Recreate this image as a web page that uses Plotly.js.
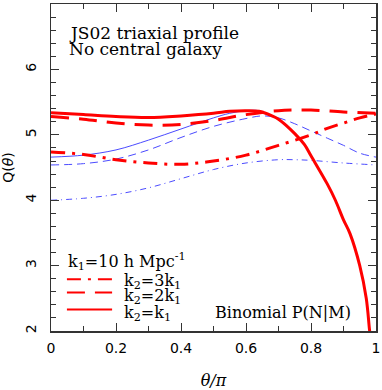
<!DOCTYPE html>
<html>
<head>
<meta charset="utf-8">
<script src="https://cdn.plot.ly/plotly-3.0.1.min.js"></script>
<style>html,body{margin:0;padding:0;background:#fff;}#chart{width:382px;height:390px;}</style>
</head>
<body>
<div id="chart"></div>
<script>
// theta/pi sample positions and Q(theta) values
const thetaSolid = [0, 0.1, 0.2, 0.3, 0.4, 0.5, 0.55, 0.6, 0.64, 0.68, 0.7, 0.75, 0.78, 0.8, 0.85, 0.875, 0.9, 0.92, 0.95, 0.97, 0.98, 0.985];
const redSolid   = [5.34, 5.31, 5.28, 5.265, 5.29, 5.33, 5.36, 5.37, 5.36, 5.29, 5.24, 5.02, 4.85, 4.68, 4.25, 4.00, 3.70, 3.49, 3.00, 2.50, 2.02, 1.80];
const thetaBlueSolid = [0, 0.1, 0.2, 0.3, 0.4, 0.5, 0.55, 0.6, 0.64, 0.68, 0.7, 0.75, 0.78, 0.8, 0.85, 0.875, 0.9, 0.92, 0.95, 0.97, 0.98, 0.985];
const blueSolid  = [4.66, 4.69, 4.77, 4.92, 5.09, 5.26, 5.33, 5.37, 5.37, 5.29, 5.24, 5.02, 4.85, 4.68, 4.25, 4.00, 3.70, 3.49, 3.00, 2.50, 2.02, 1.80];

const thetaDash = [0, 0.1, 0.2, 0.3, 0.4, 0.5, 0.6, 0.7, 0.75, 0.8, 0.9, 1.0];
const redDash   = [5.28, 5.24, 5.18, 5.15, 5.16, 5.22, 5.31, 5.37, 5.38, 5.38, 5.35, 5.33];
const thetaBlueDash = [0, 0.1, 0.2, 0.3, 0.4, 0.5, 0.6, 0.65, 0.7, 0.75, 0.8, 0.85, 0.9, 0.95, 1.0];
const blueDash  = [4.54, 4.56, 4.63, 4.77, 4.96, 5.13, 5.25, 5.29, 5.26, 5.17, 5.06, 4.95, 4.84, 4.72, 4.66];

const thetaDashDot = [0, 0.1, 0.2, 0.3, 0.4, 0.5, 0.6, 0.7, 0.8, 0.85, 0.9, 0.95, 1.0];
const redDashDot   = [4.74, 4.70, 4.62, 4.57, 4.55, 4.60, 4.69, 4.84, 5.00, 5.10, 5.18, 5.26, 5.32];
const thetaBlueDashDot = [0, 0.1, 0.2, 0.3, 0.4, 0.5, 0.6, 0.7, 0.75, 0.8, 0.9, 1.0];
const blueDashDot  = [4.00, 4.03, 4.09, 4.19, 4.33, 4.47, 4.57, 4.62, 4.62, 4.61, 4.57, 4.54];

const legendTitle = "k<sub>1</sub>=10 h Mpc<sup>-1</sup>";
const legendNames = ["k<sub>2</sub>=3k<sub>1</sub>", "k<sub>2</sub>=2k<sub>1</sub>", "k<sub>2</sub>=k<sub>1</sub>"];
const headerLines = ["JS02 triaxial profile", "No central galaxy"];
const noteText = "Binomial P(N|M)";

const RED = "#ff0000", BLUE = "#4b4bff";
const serif = "DejaVu Serif, serif";
const DASHDOT = "14px,7px,3px,7px", DASH = "18px,10px";

const traces = [
  {x: thetaBlueDashDot, y: blueDashDot, mode: "lines", line: {color: BLUE, width: 1, dash: "6px,4px,1px,4px", shape: "spline"}, showlegend: false, hoverinfo: "skip"},
  {x: thetaBlueDash, y: blueDash, mode: "lines", line: {color: BLUE, width: 1, dash: "8px,5px", shape: "spline"}, showlegend: false, hoverinfo: "skip"},
  {x: thetaBlueSolid, y: blueSolid, mode: "lines", line: {color: BLUE, width: 1, shape: "spline"}, showlegend: false, hoverinfo: "skip"},
  {x: thetaDashDot, y: redDashDot, name: legendNames[0], mode: "lines", line: {color: RED, width: 3, dash: DASHDOT, shape: "spline"}, showlegend: false},
  {x: thetaDash, y: redDash, name: legendNames[1], mode: "lines", line: {color: RED, width: 3, dash: DASH, shape: "spline"}, showlegend: false},
  {x: thetaSolid, y: redSolid, name: legendNames[2], mode: "lines", line: {color: RED, width: 3, shape: "spline"}, showlegend: false}
];

const axisCommon = {
  showline: true, linecolor: "#333", linewidth: 1.5, mirror: "allticks",
  ticks: "inside", ticklen: 8, tickcolor: "#333", tickwidth: 1,
  showgrid: false, zeroline: false,
  tickfont: {family: "DejaVu Sans, sans-serif", size: 14, color: "#000"}
};

// manual legend (sample lines + labels), placed in paper coordinates
const legendX0 = 0.049, legendX1 = 0.188, legendTextX = 0.218;
const legendRowsY = [0.158, 0.118, 0.066];
const legendDash = [DASHDOT, DASH, "solid"];
const shapes = legendRowsY.map((yy, i) => ({
  type: "line", xref: "paper", yref: "paper", x0: legendX0, x1: legendX1, y0: yy, y1: yy,
  line: {color: RED, width: 2, dash: legendDash[i]}
}));
const legendLabelY = [0.152, 0.106, 0.054];

const annotations = [
  {xref: "paper", yref: "paper", x: 0.049, y: 0.912, xanchor: "left", yanchor: "middle", showarrow: false,
   text: headerLines[0], font: {family: serif, size: 17, color: "#000"}},
  {xref: "paper", yref: "paper", x: 0.049, y: 0.861, xanchor: "left", yanchor: "middle", showarrow: false,
   text: headerLines[1], font: {family: serif, size: 17, color: "#000"}},
  {xref: "paper", yref: "paper", x: 0.93, y: 0.058, xanchor: "right", yanchor: "middle", showarrow: false,
   text: noteText, font: {family: serif, size: 16, color: "#000"}},
  {xref: "paper", yref: "paper", x: 0.045, y: 0.214, xanchor: "left", yanchor: "middle", showarrow: false,
   text: legendTitle, font: {family: serif, size: 16, color: "#000"}}
].concat(legendNames.map((t, i) => ({
  xref: "paper", yref: "paper", x: legendTextX, y: legendLabelY[i], xanchor: "left", yanchor: "middle", showarrow: false,
  text: t, font: {family: serif, size: 16, color: "#000"}
})));

const layout = {
  width: 382, height: 390,
  margin: {l: 51, r: 6, t: 4, b: 59},
  paper_bgcolor: "#fff", plot_bgcolor: "#fff",
  showlegend: false,
  xaxis: Object.assign({}, axisCommon, {
    range: [0, 1], dtick: 0.2, tick0: 0, ticklabelstandoff: 4,
    minor: {dtick: 0.1, ticks: "inside", ticklen: 5, tickcolor: "#333"},
    title: {text: "<i>θ/π</i>", font: {family: serif, size: 16, color: "#000"}, standoff: 20}
  }),
  yaxis: Object.assign({}, axisCommon, {
    range: [2, 7.002], dtick: 1, tick0: 2, tickangle: -90, ticklabelstandoff: 8,
    minor: {dtick: 0.2, ticks: "inside", ticklen: 5, tickcolor: "#333"},
    title: {text: "Q(<i>θ</i>)", font: {family: "DejaVu Sans, sans-serif", size: 14, color: "#000"}, standoff: 10}
  }),
  shapes: shapes,
  annotations: annotations
};

Plotly.newPlot("chart", traces, layout, {displayModeBar: false, staticPlot: true});
</script>
</body>
</html>
